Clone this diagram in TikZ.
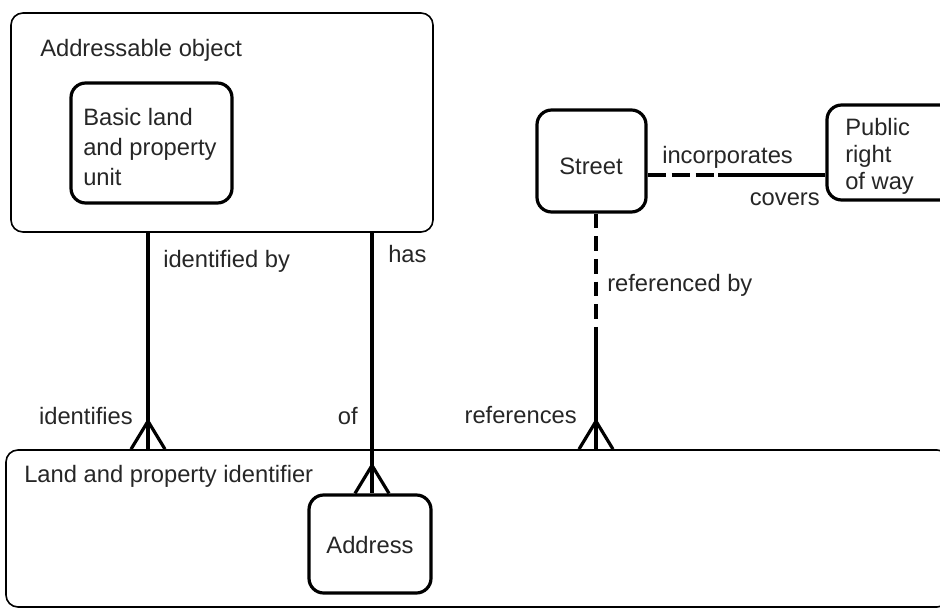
\documentclass[tikz,border=0pt]{standalone}
\usepackage{fontspec}
\setmainfont{Liberation Sans}
\usetikzlibrary{fit}

\begin{document}
\begin{tikzpicture}[x=0.75pt,y=-0.75pt,
  font=\fontsize{17.8}{22.5}\selectfont,
  box/.style={draw=black,line width=1.2pt,rounded corners=9pt,inner sep=0pt},
  ent/.style={draw=black,line width=2.4pt,rounded corners=11pt,inner sep=0pt},
  txt/.style={inner sep=0pt,text=black!85},
  conn/.style={black,line width=2.4pt}]
\useasboundingbox (0,0) rectangle (940,610);
\clip (0,0) rectangle (940,610);
%Kaesten
\node[box,fit={(11,13) (433,232)}] (ao) {};
\node[ent,fit={(71,83) (232,203)}] (blpu) {};
\node[ent,fit={(537,110) (646,212)}] (street) {};
\node[ent,fit={(827,105) (960,200)}] (prow) {};
\node[box,fit={(6,450) (949,607)}] (lpi) {};
\node[ent,fit={(309,495) (431,593)}] (addr) {};
\node[txt,anchor=base west] (aot) at (40,57) {Addressable object};
\node[txt,anchor=north west,align=left] (blput) at (83,108) {Basic land\\and property\\unit};
\node[txt,anchor=base] (streett) at (591,175) {Street};
\node[txt,anchor=north west,align=left,font=\fontsize{17.8}{20.25}\selectfont] (prowt) at (845,118) {Public\\right\\of way};
\node[txt,anchor=base west] (lpit) at (24,482) {Land and property identifier};
\node[txt,anchor=base] (addrt) at (370,553) {Address};
%Verbindungen
\coordinate (xid) at (148,0);
\coordinate (xhas) at (372,0);
\coordinate (xref) at (596,0);
\coordinate (refbreak) at (596,333);
\coordinate (incbreak) at (718,175);
\draw[conn] (ao.south -| xid) -- (lpi.north -| xid);
\draw[conn] (ao.south -| xhas) -- (addr.north -| xhas);
\draw[conn,dash pattern=on 11pt off 6pt] (street.south -| xref) -- (refbreak);
\draw[conn] (refbreak) -- (lpi.north -| xref);
\draw[conn,dash pattern=on 13.5pt off 4.5pt] (street.east |- incbreak) -- (incbreak);
\draw[conn] (incbreak) -- (prow.west |- incbreak);
\foreach \p in {lpi.north -| xid, addr.north -| xhas, lpi.north -| xref}{
  \draw[conn] (\p) ++(-17,0) -- ++(17,-28) -- ++(17,28);
}
%Beschriftungen
\node[txt,anchor=base west] (idby) at (163,267) {identified by};
\node[txt,anchor=base west] (has) at (388,262) {has};
\node[txt,anchor=base east] (ids) at (133,424) {identifies};
\node[txt,anchor=base east] (of) at (358,424) {of};
\node[txt,anchor=base east] (refs) at (577,423) {references};
\node[txt,anchor=base west] (refby) at (607,291) {referenced by};
\node[txt,anchor=base west] (inc) at (662,164) {incorporates};
\node[txt,anchor=base east] (cov) at (820,205) {covers};
\end{tikzpicture}
\end{document}
